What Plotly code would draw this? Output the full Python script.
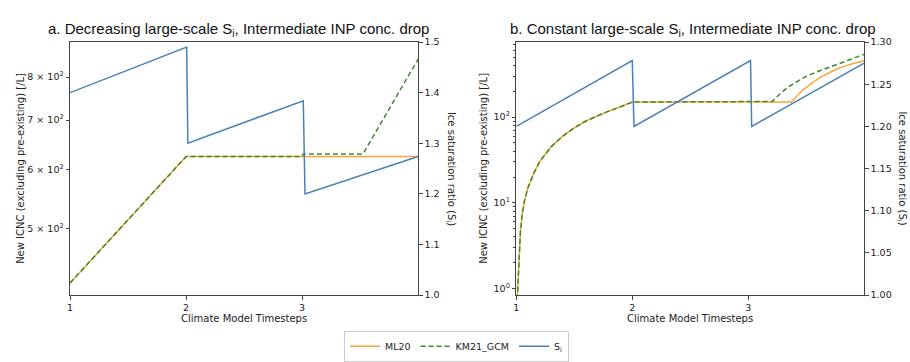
import plotly.graph_objects as go
import math

# ---------------- data ----------------
# Panel a: decreasing large-scale Si
x_a_ml20 = [1, 2, 4]
a_ml20 = [422, 625, 625]
x_a_km21 = [1, 2, 3, 3.01, 3.525, 4]
a_km21 = [422, 625, 625, 630, 630, 846]
x_a_si = [1, 2.005, 2.015, 3.01, 3.025, 4]
a_si = [1.40, 1.49, 1.30, 1.384, 1.20, 1.274]

# Panel b: constant large-scale Si
x_b_ml20 = [1.005, 1.015, 1.025, 1.035, 1.05, 1.07, 1.1, 1.15, 1.2, 1.3, 1.4, 1.5,
            1.6, 1.7, 1.8, 1.9, 2.0, 3.373, 3.45, 3.55, 3.64, 3.72, 3.8, 3.9, 4.0]
b_ml20 = [0.6, 1.1, 2.6, 4.5, 7.2, 10.5, 15, 22, 30, 45, 60, 75,
          90, 104, 118, 132, 150, 150, 195, 250, 300, 340, 380, 420, 455]
x_b_km21 = [1.005, 1.015, 1.025, 1.035, 1.05, 1.07, 1.1, 1.15, 1.2, 1.3, 1.4, 1.5,
            1.6, 1.7, 1.8, 1.9, 2.0, 3.207, 3.28, 3.35, 3.42, 3.49, 3.6, 3.7, 3.78, 3.9, 4.0]
b_km21 = [0.6, 1.1, 2.6, 4.5, 7.2, 10.5, 15, 22, 30, 45, 60, 75,
          90, 104, 118, 132, 150, 152, 190, 227, 260, 294, 340, 380, 416, 475, 539]
x_b_si = [1, 2.0, 2.015, 3.02, 3.03, 4]
b_si = [1.200, 1.278, 1.200, 1.278, 1.200, 1.275]

x_ticks = [1, 2, 3]
a_left_ticks = [500, 600, 700, 800]
a_left_text = ["5 × 10<sup>2</sup>", "6 × 10<sup>2</sup>", "7 × 10<sup>2</sup>", "8 × 10<sup>2</sup>"]
a_right_ticks = [1.0, 1.1, 1.2, 1.3, 1.4, 1.5]
b_left_ticks = [1, 10, 100]
b_left_text = ["10<sup>0</sup>", "10<sup>1</sup>", "10<sup>2</sup>"]
b_left_minor = [2, 3, 4, 5, 6, 7, 8, 9, 20, 30, 40, 50, 60, 70, 80, 90, 200, 300, 400, 500, 600, 700]
b_right_ticks = [1.00, 1.05, 1.10, 1.15, 1.20, 1.25, 1.30]

# ---------------- style ----------------
W, H = 910, 362
ORANGE = "#f7a53a"
GREEN = "#3a8a2c"
BLUE = "#4a80b8"
AX = "#444444"
TXT = "#222222"
TICKF = dict(family="DejaVu Sans", size=9.5, color=TXT)

def px(x):
    return x / W

def py(y):
    return 1 - y / H

xa_dom = [px(67.3), px(416.5)]
xb_dom = [px(515), px(864)]
y_dom = [py(299), py(37.3)]

fig = go.Figure()

# Panel a
fig.add_trace(go.Scatter(x=x_a_ml20, y=a_ml20, mode="lines", name="ML20",
                         line=dict(color=ORANGE, width=1.5), xaxis="x", yaxis="y"))
fig.add_trace(go.Scatter(x=x_a_km21, y=a_km21, mode="lines", name="KM21_GCM",
                         line=dict(color=GREEN, width=1.5, dash="5px,3px"), xaxis="x", yaxis="y"))
fig.add_trace(go.Scatter(x=x_a_si, y=a_si, mode="lines", name="S<sub>i</sub>",
                         line=dict(color=BLUE, width=1.5), xaxis="x", yaxis="y2"))
# Panel b
fig.add_trace(go.Scatter(x=x_b_ml20, y=b_ml20, mode="lines", name="ML20", showlegend=False,
                         line=dict(color=ORANGE, width=1.5), xaxis="x2", yaxis="y3"))
fig.add_trace(go.Scatter(x=x_b_km21, y=b_km21, mode="lines", name="KM21_GCM", showlegend=False,
                         line=dict(color=GREEN, width=1.5, dash="5px,3px"), xaxis="x2", yaxis="y3"))
fig.add_trace(go.Scatter(x=x_b_si, y=b_si, mode="lines", name="S<sub>i</sub>", showlegend=False,
                         line=dict(color=BLUE, width=1.5), xaxis="x2", yaxis="y4"))

common = dict(showgrid=False, zeroline=False, showline=True, linecolor=AX, linewidth=1,
              ticks="outside", ticklen=3.5, tickcolor=AX, tickfont=TICKF)

fig.update_layout(
    width=W, height=H,
    margin=dict(l=0, r=0, t=0, b=0),
    paper_bgcolor="white", plot_bgcolor="white",
    showlegend=True,
    legend=dict(orientation="h", x=0.5, xanchor="center", y=py(352), yanchor="middle",
                bordercolor="#cccccc", borderwidth=1, font=dict(family="DejaVu Sans", size=9.5, color=TXT),
                itemwidth=30, tracegroupgap=0),
    xaxis=dict(domain=xa_dom, range=[1, 4], tickvals=x_ticks, anchor="y", mirror=True, **common),
    yaxis=dict(domain=y_dom, type="log", range=[math.log10(406.4), math.log10(892)],
               tickvals=a_left_ticks, ticktext=a_left_text, anchor="x", **common),
    yaxis2=dict(overlaying="y", side="right", anchor="x", range=[1.0, 1.5],
                tickvals=a_right_ticks, ticktext=["%.1f" % v for v in a_right_ticks], **common),
    xaxis2=dict(domain=xb_dom, range=[1, 4], tickvals=x_ticks, anchor="y3", mirror=True, **common),
    yaxis3=dict(domain=y_dom, type="log", range=[-0.0755, 2.875], anchor="x2",
                tickvals=b_left_ticks, ticktext=b_left_text,
                minor=dict(tickvals=b_left_minor, ticks="outside", ticklen=2, tickcolor=AX),
                **common),
    yaxis4=dict(overlaying="y3", side="right", anchor="x2", range=[1.0, 1.3],
                tickvals=b_right_ticks, ticktext=["%.2f" % v for v in b_right_ticks], **common),
)

LBL = dict(family="DejaVu Sans", size=10, color=TXT)
TTL = dict(family="Liberation Sans", size=15, color="#111111")
ann = [
    dict(text="a. Decreasing large-scale S<sub>i</sub>, Intermediate INP conc. drop",
         x=px(236), y=py(24), font=TTL),
    dict(text="b. Constant large-scale S<sub>i</sub>, Intermediate INP conc. drop",
         x=px(692), y=py(24), font=TTL),
    dict(text="Climate Model Timesteps", x=px(242), y=py(323), font=LBL),
    dict(text="Climate Model Timesteps", x=px(689.5), y=py(323), font=LBL),
    dict(text="New ICNC (excluding pre-existing) [/L]", x=px(17.5), y=py(168), textangle=-90, font=LBL),
    dict(text="New ICNC (excluding pre-existing) [/L]", x=px(482), y=py(168), textangle=-90, font=LBL),
    dict(text="Ice saturation ratio (S<sub>i</sub>)", x=px(449), y=py(168), textangle=90, font=LBL),
    dict(text="Ice saturation ratio (S<sub>i</sub>)", x=px(902), y=py(168), textangle=90, font=LBL),
]
for a in ann:
    a.update(xref="paper", yref="paper", showarrow=False, xanchor="center", yanchor="middle")
fig.update_layout(annotations=ann)

fig.write_html("out.html")
